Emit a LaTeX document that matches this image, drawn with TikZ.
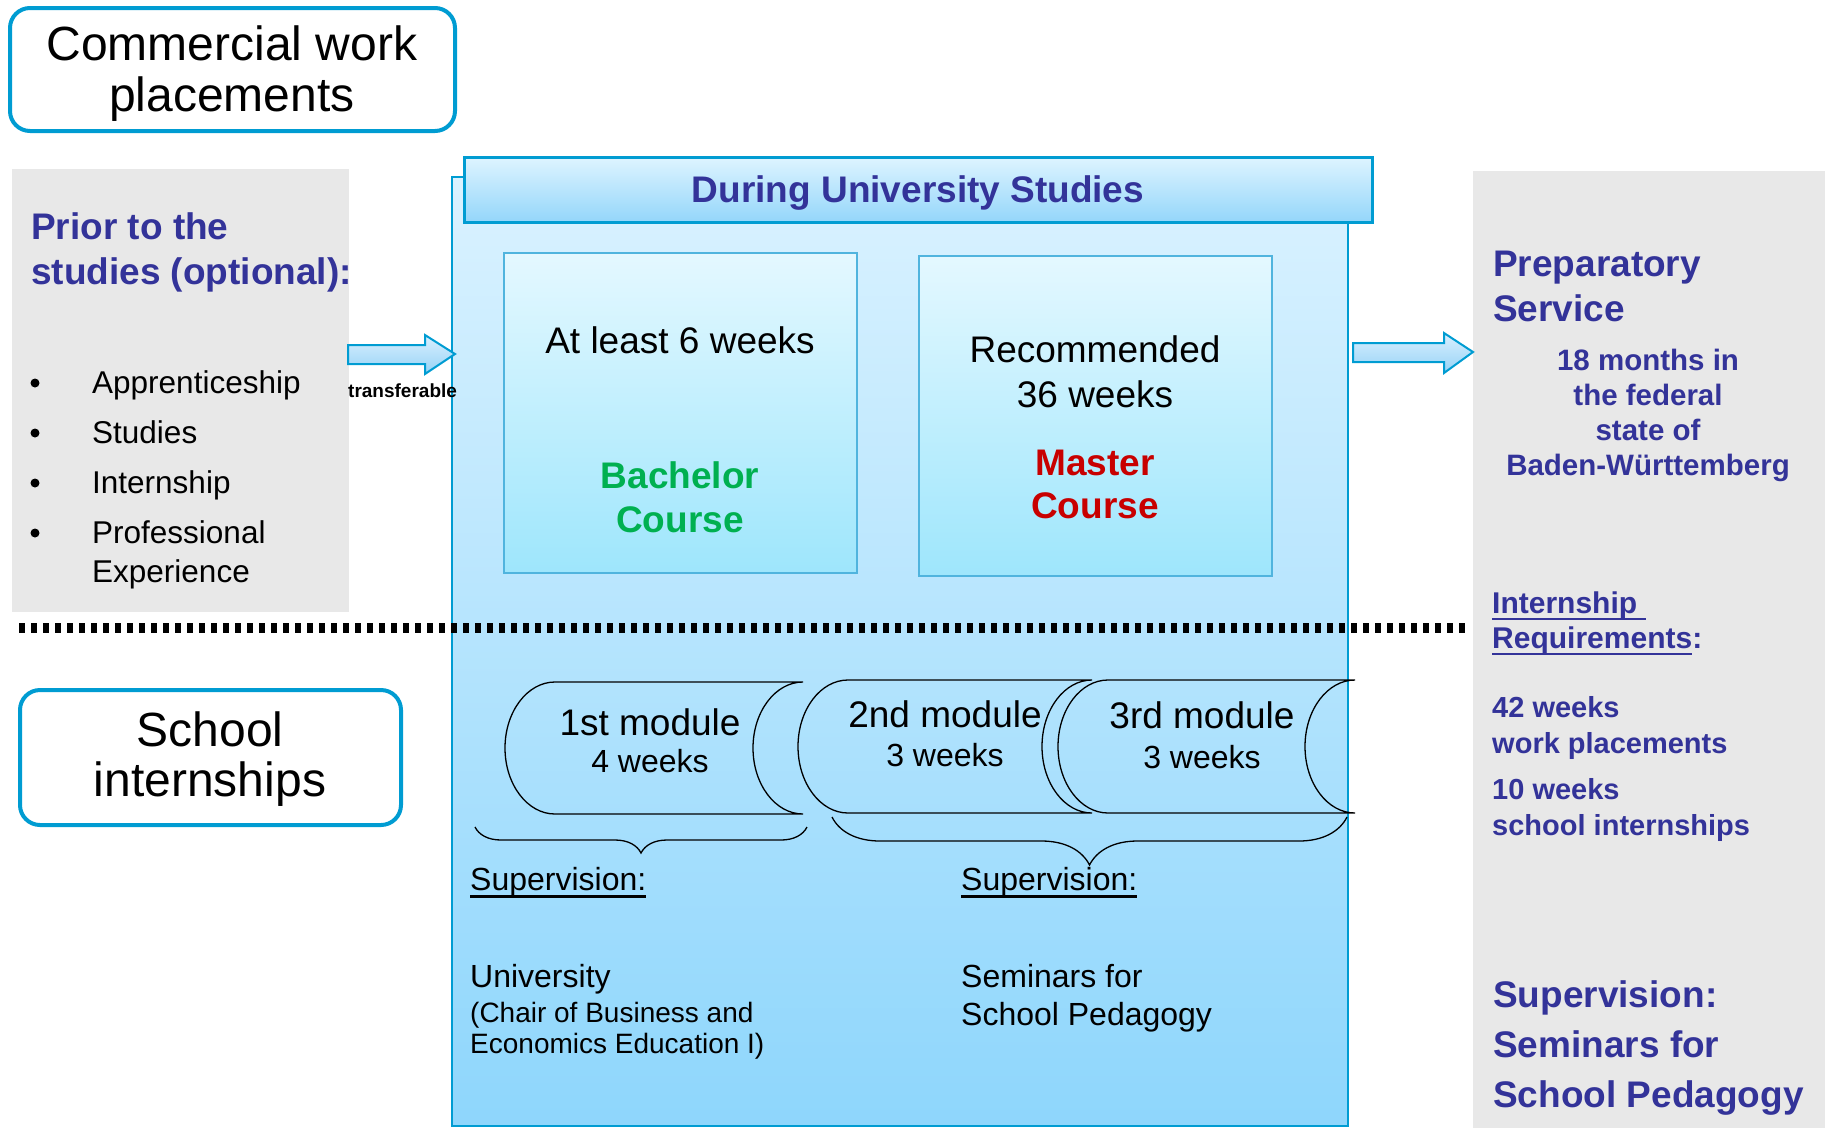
\documentclass[tikz,border=0pt]{standalone}
\usepackage{fontspec}
\setmainfont{Liberation Sans}
\usepackage{xcolor}
\usetikzlibrary{calc, positioning, decorations.pathreplacing}

\definecolor{framecyan}{RGB}{0,156,210}
\definecolor{headblue}{RGB}{51,51,153}
\definecolor{panelgrey}{RGB}{232,232,232}
\definecolor{mainTop}{RGB}{218,242,255}
\definecolor{mainBot}{RGB}{142,214,252}
\definecolor{barTop}{RGB}{222,244,255}
\definecolor{barBot}{RGB}{148,214,250}
\definecolor{courseTop}{RGB}{228,248,255}
\definecolor{courseBot}{RGB}{158,230,252}
\definecolor{courseEdge}{RGB}{80,180,222}
\definecolor{arrowTop}{RGB}{218,240,255}
\definecolor{arrowBot}{RGB}{150,210,245}
\definecolor{bachgreen}{RGB}{0,176,80}
\definecolor{masterred}{RGB}{200,0,0}

\newcommand{\fsz}[2]{\fontsize{#1}{#2}\selectfont}
\newcommand{\undl}[1]{\setbox0\hbox{#1}\rlap{\rule[-0.24em]{\wd0}{0.08em}}\box0}

\begin{document}
\begin{tikzpicture}[x=1pt, y=-1pt,
  tagbox/.style={draw=framecyan, line width=4pt, rounded corners=20pt, fill=white, inner sep=0pt},
  tagtext/.style={font=\fsz{48}{51}, align=center, anchor=base, inner sep=0pt},
  headline/.style={text=headblue, font=\bfseries\fsz{37}{45}, align=left, anchor=base west, inner sep=0pt},
  sidenote/.style={text=headblue, font=\bfseries\fsz{29}{36}, align=left, anchor=base west, inner sep=0pt},
  plain/.style={font=\fsz{32}{38}, align=left, anchor=base west, inner sep=0pt},
  weeks/.style={font=\fsz{37}{45}, align=center, anchor=base, inner sep=0pt},
  modtext/.style={font=\fsz{37}{39}, align=center, anchor=base, inner sep=0pt},
  blockarrow/.style={draw=framecyan, line width=2pt, top color=arrowTop, bottom color=arrowBot},
  coursebox/.style={draw=courseEdge, line width=2pt, top color=courseTop, bottom color=courseBot},
  module/.style={draw=black, line width=1.3pt},
  curly/.style={draw=black, line width=1.3pt, decorate}]
\useasboundingbox (0,0) rectangle (1825,1128);

% side panels
\fill[panelgrey] (12,169) rectangle (349,612);
\fill[panelgrey] (1473,171) rectangle (1825,1128);

% university block
\draw[draw=framecyan, line width=2pt, top color=mainTop, bottom color=mainBot] (452,177) rectangle (1348,1126);
\node[draw=framecyan, line width=3pt, top color=barTop, bottom color=barBot, minimum width=908, minimum height=65,
  text depth=0pt, inner sep=0pt, text=headblue, font=\bfseries\fsz{37}{45}] (during) at (918,189.5) {During University Studies};

\node[coursebox, minimum width=353, minimum height=320] (bachelor) at (680.5,413) {};
\node[coursebox, minimum width=353, minimum height=320] (master) at (1095.5,416) {};
\node[weeks] (atleast) at (680,353) {At least 6 weeks};
\node[weeks, text=bachgreen, font=\bfseries\fsz{37}{44}] (bachtxt) at (680,532) {Bachelor\\Course};
\node[weeks] (recom) at (1095,407) {Recommended\\36 weeks};
\node[weeks, text=masterred, font=\bfseries\fsz{37}{43}] (mastxt) at (1095,518) {Master\\Course};

% modules
\draw[module] (555,682) -- (803,682) arc[start angle=270, end angle=90, x radius=50, y radius=66]
  -- (555,814) arc[start angle=90, end angle=270, x radius=50, y radius=66] -- cycle;
\draw[module] (848,680) -- (1092,680) arc[start angle=270, end angle=90, x radius=50, y radius=66.5]
  -- (848,813) arc[start angle=90, end angle=270, x radius=50, y radius=66.5] -- cycle;
\draw[module] (1108,680) -- (1355,680) arc[start angle=270, end angle=90, x radius=50, y radius=66.5]
  -- (1108,813) arc[start angle=90, end angle=270, x radius=50, y radius=66.5] -- cycle;
\node[modtext, font=\fsz{37}{37}] (mod1) at (650,772) {1st module\\{\fsz{32}{37}4 weeks}};
\node[modtext] (mod2) at (945,766) {2nd module\\{\fsz{32}{39}3 weeks}};
\node[modtext, font=\fsz{37}{40}] (mod3) at (1202,768) {3rd module\\{\fsz{32}{40}3 weeks}};

% braces
\coordinate (br1a) at (475,827);
\coordinate (br1b) at (807,827);
\coordinate (br2a) at (832,817);
\coordinate (br2b) at (1347,817);
\draw[curly, decoration={brace, mirror, amplitude=26pt}] (br1a) -- (br1b);
\draw[curly, decoration={brace, mirror, amplitude=48pt}] (br2a) -- (br2b);

\node[plain] (sup1) at (470,890) {\undl{Supervision:}};
\node[plain] (sup2) at (961,890) {\undl{Supervision:}};
\node[plain] (uni) at (470,987) {University};
\node[plain, font=\fsz{28}{31}] (chair) at (470,1053) {(Chair of Business and\\Economics Education I)};
\node[plain] (seminars) at (961,1025) {Seminars for\\School Pedagogy};

% left side
\node[tagbox, minimum width=445, minimum height=123] (commercial) at (232.5,69.5) {};
\node[tagtext] (commercialtxt) at (232,111) {Commercial work\\placements};
\node[tagbox, minimum width=381, minimum height=135] (schoolint) at (210.5,757.5) {};
\node[tagtext, font=\fsz{48}{50}] (schoolinttxt) at (210,796) {School\\internships};
\node[headline] (prior) at (31,284) {Prior to the\\studies (optional):};
\foreach \txt/\yb/\yl [count=\i] in {Apprenticeship/393/393, Studies/443/443, Internship/493/493, {Professional\\Experience}/543/582} {
  \node[circle, fill=black, inner sep=0pt, minimum size=9] (dot\i) at (35,\yb-10) {};
  \node[font=\fsz{31.5}{39}, align=left, anchor=base west, inner sep=0pt] (item\i) at (92,\yl) {\txt};
}
\draw[blockarrow] (348,345) -- (425,345) -- (425,335) -- (455,354) -- (425,374) -- (425,364) -- (348,364) -- cycle;
\node[font=\bfseries\fsz{19}{20}, anchor=base west, inner sep=0pt] (transf) at (348,397) {transferable};

% right side
\draw[blockarrow] (1353,343) -- (1444,343) -- (1444,333) -- (1473,352) -- (1444,373) -- (1444,362) -- (1353,362) -- cycle;
\node[headline] (prep) at (1493,321) {Preparatory\\Service};
\node[sidenote, align=center, anchor=base, font=\bfseries\fsz{29.5}{35}] (months) at (1648,475) {18 months in\\the federal\\state of\\Baden-Württemberg};
\node[sidenote, font=\bfseries\fsz{30}{35}] (reqs) at (1492,648) {\undl{Internship\ }\\\undl{Requirements}:};
\node[sidenote] (work) at (1492,753) {42 weeks\\work placements};
\node[sidenote] (school) at (1492,835) {10 weeks\\school internships};
\node[headline] (supright) at (1493,1007) {Supervision:};
\node[headline, font=\bfseries\fsz{37}{50}] (semright) at (1493,1107) {Seminars for\\School Pedagogy};

% divider
\coordinate (sepL) at (19,628);
\coordinate (sepR) at (1469,628);
\draw[line width=10pt, dash pattern=on 6pt off 6pt] (sepL) -- (sepR);
\end{tikzpicture}
\end{document}
